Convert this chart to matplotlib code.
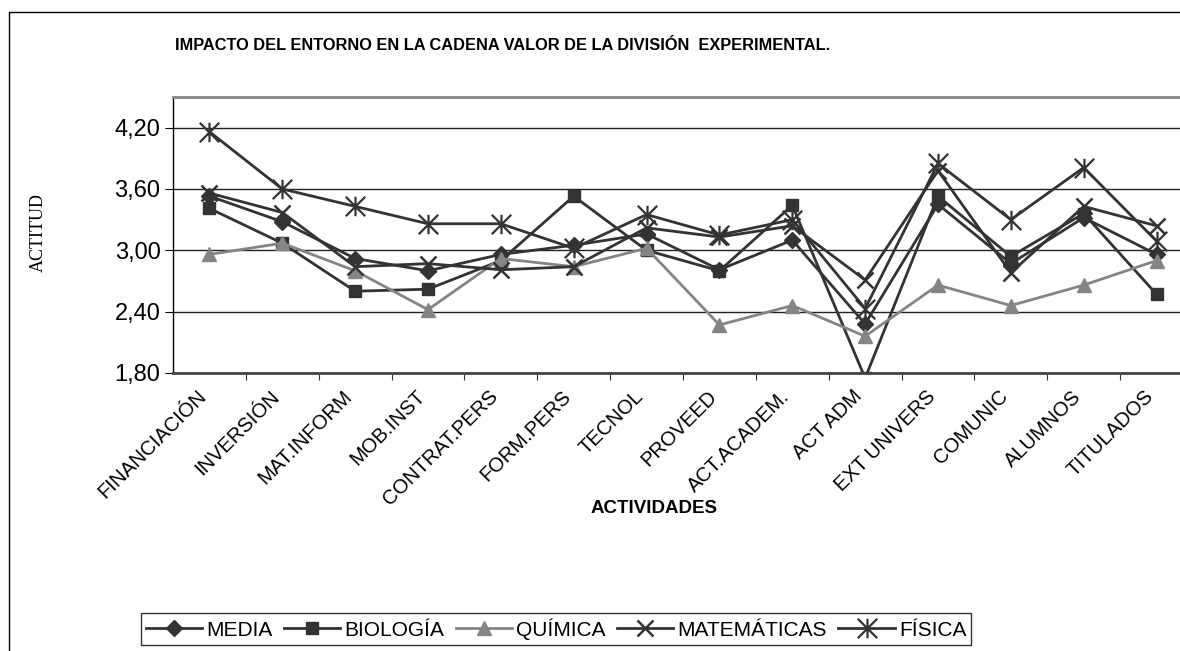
import matplotlib.pyplot as plt
from matplotlib.path import Path
from matplotlib.patches import Rectangle

plt.rcParams['font.family'] = ['Liberation Sans', 'DejaVu Sans']

actividades = ['FINANCIACIÓN', 'INVERSIÓN', 'MAT.INFORM', 'MOB.INST', 'CONTRAT.PERS',
               'FORM.PERS', 'TECNOL', 'PROVEED', 'ACT.ACADEM.', 'ACT ADM',
               'EXT UNIVERS', 'COMUNIC', 'ALUMNOS', 'TITULADOS']
media = [3.53, 3.28, 2.92, 2.80, 2.96, 3.05, 3.16, 2.81, 3.10, 2.28, 3.45, 2.87, 3.32, 2.96]
biologia = [3.41, 3.07, 2.60, 2.62, 2.90, 3.53, 3.00, 2.80, 3.44, 1.75, 3.53, 2.94, 3.36, 2.57]
quimica = [2.96, 3.07, 2.80, 2.42, 2.92, 2.84, 3.02, 2.27, 2.46, 2.16, 2.66, 2.46, 2.66, 2.90]
matematicas = [3.56, 3.37, 2.84, 2.87, 2.81, 2.84, 3.22, 3.13, 3.24, 2.71, 3.78, 2.78, 3.43, 3.24]
fisica = [4.16, 3.60, 3.43, 3.26, 3.26, 3.02, 3.35, 3.15, 3.30, 2.43, 3.85, 3.30, 3.81, 3.09]
y_ticks = [1.80, 2.40, 3.00, 3.60, 4.20]

# asterisco tipo Excel: aspa + trazo vertical
asterisco = Path([(-1, -1), (1, 1), (-1, 1), (1, -1), (0, -1), (0, 1)],
                 [Path.MOVETO, Path.LINETO, Path.MOVETO, Path.LINETO, Path.MOVETO, Path.LINETO])

oscuro = '#333333'
gris = '#858585'

fig = plt.figure(figsize=(11.8, 6.51), dpi=100)
# marco exterior del gráfico (recortado a la derecha y abajo)
fig.patches.append(Rectangle((9 / 1180, -0.5), 2, 1.5 - 12 / 651, transform=fig.transFigure,
                             fill=False, edgecolor='black', linewidth=1))

ax = fig.add_axes([173 / 1180, 1 - 373 / 651, 1020 / 1180, 276 / 651])
x = list(range(len(actividades)))

ax.plot(x, media, color=oscuro, lw=2, marker='D', ms=8, label='MEDIA')
ax.plot(x, biologia, color=oscuro, lw=2, marker='s', ms=9, label='BIOLOGÍA')
ax.plot(x, quimica, color=gris, lw=2, marker='^', ms=10, label='QUÍMICA')
ax.plot(x, matematicas, color=oscuro, lw=2, marker='x', ms=11, mew=1.8, label='MATEMÁTICAS')
ax.plot(x, fisica, color=oscuro, lw=2, marker=asterisco, ms=14, mew=1.6, mfc='none', label='FÍSICA')

ax.set_xlim(-0.5, len(actividades) - 0.5)
ax.set_ylim(1.80, 4.50)
ax.set_yticks(y_ticks)
ax.set_yticklabels([f'{v:.2f}'.replace('.', ',') for v in y_ticks], fontsize=17)
ax.yaxis.grid(True, color='#222222', lw=1)
ax.set_axisbelow(True)

# marcas entre categorías, etiquetas centradas en cada categoría
ax.set_xticks([i + 0.5 for i in x[:-1]])
ax.set_xticklabels([])
for i, nombre in enumerate(actividades):
    ax.annotate(nombre, xy=(i, 0), xycoords=('data', 'axes fraction'),
                xytext=(-9, -10), textcoords='offset points', rotation=45,
                ha='right', va='top', rotation_mode='anchor', fontsize=14.5)
ax.tick_params(axis='x', length=5, direction='out', color='#333333')
ax.tick_params(axis='y', length=6, direction='out', pad=3)

ax.spines['top'].set_color(gris)
ax.spines['right'].set_color(gris)
ax.spines['top'].set_linewidth(2)
ax.spines['bottom'].set_color('#444444')
ax.spines['bottom'].set_linewidth(2)
ax.spines['left'].set_linewidth(1)

ax.set_xlabel('ACTIVIDADES', fontsize=13.5, fontweight='bold')
ax.xaxis.set_label_coords((654 - 173) / 1020, -(500 - 373) / 276)
ax.set_ylabel('ACTITUD', fontsize=13, family=['Liberation Serif', 'DejaVu Serif'])
ax.yaxis.set_label_coords(-(173 - 47) / 1020, (373 - 233) / 276)

fig.text(503 / 1180, 1 - 45 / 651, 'IMPACTO DEL ENTORNO EN LA CADENA VALOR DE LA DIVISIÓN  EXPERIMENTAL.',
         ha='center', va='center', fontsize=11.8, fontweight='bold')

leg = fig.legend(loc='center', bbox_to_anchor=(556 / 1180, 1 - 629 / 651), ncol=5,
                 fontsize=15, frameon=True, fancybox=False, edgecolor='black',
                 handlelength=2.7, columnspacing=0.55, handletextpad=0.2, borderpad=0.25)
leg.get_frame().set_linewidth(1)

fig.savefig('out.png', dpi=100)
